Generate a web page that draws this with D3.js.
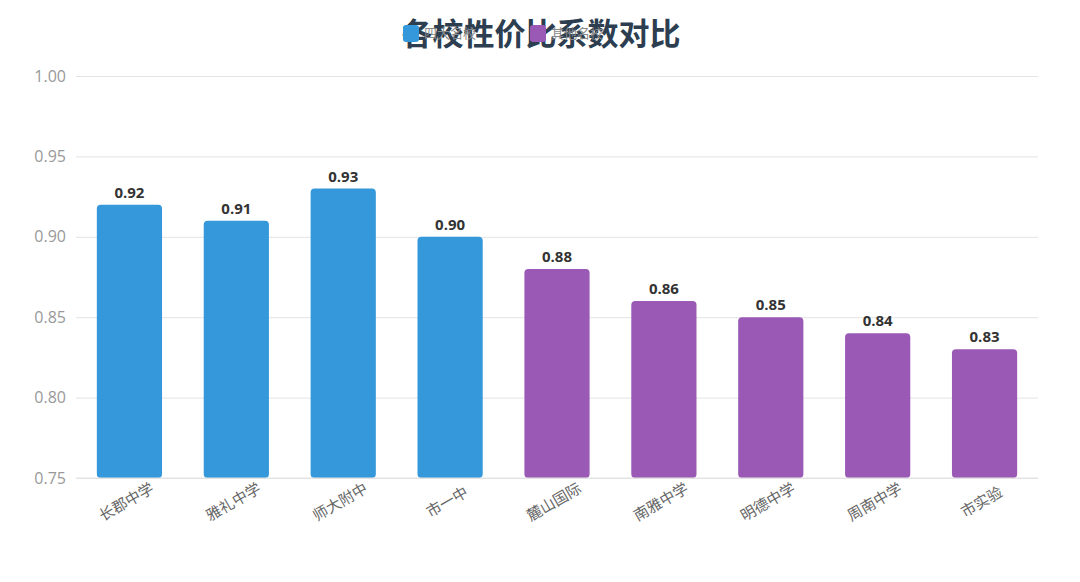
<!DOCTYPE html>
<html>
<head>
<meta charset="utf-8">
<script src="https://cdn.jsdelivr.net/npm/d3@7"></script>
<style>
  body { margin: 0; background: #fff; }
  text { font-family: "Noto Sans CJK SC", "Open Sans", sans-serif; }
</style>
</head>
<body>
<script>
// Data
var schools = ["长郡中学", "雅礼中学", "师大附中", "市一中", "麓山国际", "南雅中学", "明德中学", "周南中学", "市实验"]
var ratios = [0.92, 0.91, 0.93, 0.90, 0.88, 0.86, 0.85, 0.84, 0.83]
var groups = ["四大名校", "四大名校", "四大名校", "四大名校", "其他名校", "其他名校", "其他名校", "其他名校", "其他名校"]
var legendNames = ["四大名校", "其他名校"]
var yTicks = [0.75, 0.80, 0.85, 0.90, 0.95, 1.00]

var width = 1080, height = 582
var margin = {top: 76, right: 42, bottom: 104, left: 76}

var color = d3.scaleOrdinal()
              .domain(legendNames)
              .range(["#3498db", "#9b59b6"])

var svg = d3.select("body")
            .append("svg")
            .attr("width", width)
            .attr("height", height)

var x = d3.scaleBand()
          .domain(schools)
          .range([margin.left, width - margin.right])
          .paddingInner(0.39)
          .paddingOuter(0.195)

var y = d3.scaleLinear()
          .domain([0.75, 1.00])
          .range([height - margin.bottom, margin.top])

// Grid lines + y labels
var yAxis = svg.append("g")
               .attr("transform", "translate(" + margin.left + ",0)")
               .call(d3.axisLeft(y)
                       .tickValues(yTicks)
                       .tickFormat(d3.format(".2f"))
                       .tickSize(-(width - margin.left - margin.right))
                       .tickPadding(10))
yAxis.select(".domain").remove()
yAxis.selectAll(".tick line")
     .attr("stroke", "#e3e3e3")
yAxis.selectAll(".tick text")
     .attr("fill", "#999")
     .style("font-family", "'Open Sans', sans-serif")
     .style("font-size", "16px")

// Bars
svg.selectAll(".bar")
   .data(ratios)
   .enter()
   .append("rect")
   .attr("class", "bar")
   .attr("x", function(d, i){ return x(schools[i]) })
   .attr("y", function(d){ return y(d) })
   .attr("width", x.bandwidth())
   .attr("height", function(d){ return y(0.75) - y(d) })
   .attr("rx", 4)
   .attr("fill", function(d, i){ return color(groups[i]) })

// Value labels
svg.selectAll(".valueLabel")
   .data(ratios)
   .enter()
   .append("text")
   .attr("class", "valueLabel")
   .attr("x", function(d, i){ return x(schools[i]) + x.bandwidth() / 2 })
   .attr("y", function(d){ return y(d) - 7 })
   .attr("text-anchor", "middle")
   .attr("fill", "#333")
   .style("font-family", "'Open Sans', sans-serif")
   .style("font-size", "15px")
   .style("font-weight", "bold")
   .text(function(d){ return d.toFixed(2) })

// x axis line
svg.append("line")
   .attr("x1", margin.left)
   .attr("x2", width - margin.right)
   .attr("y1", y(0.75))
   .attr("y2", y(0.75))
   .attr("stroke", "#e3e3e3")

// x labels, rotated
svg.selectAll(".xLabel")
   .data(schools)
   .enter()
   .append("text")
   .attr("class", "xLabel")
   .attr("transform", function(d){
     return "translate(" + (x(d) + x.bandwidth() / 2 - 3) + "," + (y(0.75) + 24) + ") rotate(-30)"
   })
   .attr("text-anchor", "middle")
   .attr("dy", "0.35em")
   .attr("fill", "#666")
   .style("font-size", "15px")
   .text(function(d){ return d })

// Title
svg.append("text")
   .attr("x", 541)
   .attr("y", 45)
   .attr("text-anchor", "middle")
   .attr("fill", "#2c3e50")
   .style("font-size", "31px")
   .style("font-weight", "bold")
   .text("各校性价比系数对比")

// Legend (drawn over the title, as in the original)
var legend = svg.selectAll(".legendItem")
                .data(legendNames)
                .enter()
                .append("g")
                .attr("class", "legendItem")
                .attr("transform", function(d, i){ return "translate(" + (403 + 127 * i) + ",25)" })

legend.append("rect")
      .attr("width", 16)
      .attr("height", 17)
      .attr("rx", 3)
      .attr("fill", function(d){ return color(d) })

legend.append("text")
      .attr("x", 21)
      .attr("y", 13)
      .attr("fill", "#888")
      .style("font-size", "13px")
      .text(function(d){ return d })
</script>
</body>
</html>
